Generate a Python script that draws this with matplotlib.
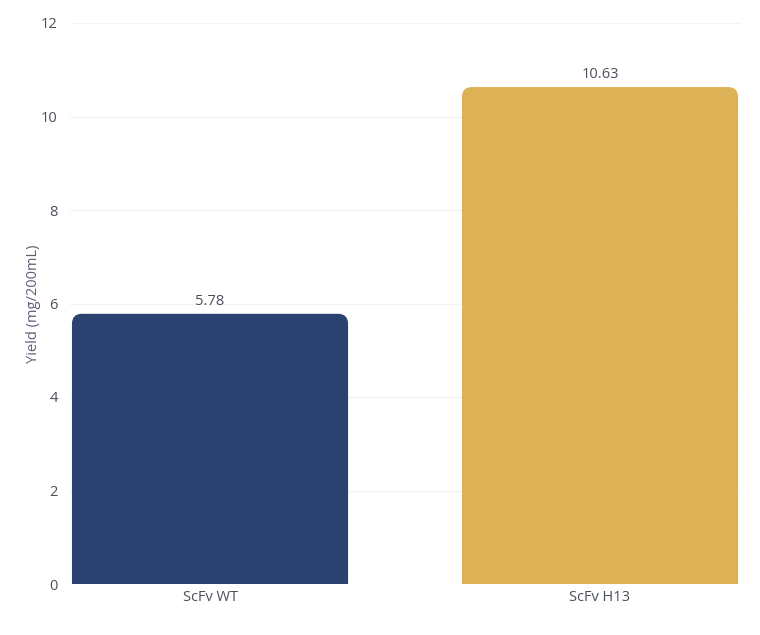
import matplotlib.pyplot as plt
from matplotlib.patches import FancyBboxPatch

plt.rcParams['font.family'] = ['Open Sans', 'DejaVu Sans']

categories = ['ScFv WT', 'ScFv H13']
yields = [5.78, 10.63]
colors = ['#2b4170', '#ddb257']
y_ticks = [0, 2, 4, 6, 8, 10, 12]

text_color = '#4a4f5c'
font_size = 10.5

fig = plt.figure(figsize=(7.6, 6.35), dpi=100)
ax = fig.add_axes([70 / 760, 51 / 635, 670 / 760, 561 / 635])

bar_width = 0.708
ax.set_xlim(-0.359, 1.359)
ax.set_ylim(0, 12)

# rounded top corners: draw a rounded box that goes below 0, the axes clip the bottom
radius = 0.0256
aspect = 8.36
for i, (val, col) in enumerate(zip(yields, colors)):
    box = FancyBboxPatch((i - bar_width / 2, -1), bar_width, val + 1,
                         boxstyle='round,pad=0,rounding_size=%f' % radius,
                         mutation_aspect=aspect, facecolor=col,
                         edgecolor='none', zorder=2)
    ax.add_patch(box)
    ax.text(i, val + 0.1, '%.2f' % val, ha='center', va='bottom',
            fontsize=font_size, color=text_color)

ax.set_xticks(range(len(categories)))
ax.set_xticklabels(categories, fontsize=font_size, color=text_color)
ax.set_yticks(y_ticks)
ax.set_yticklabels([str(t) for t in y_ticks], fontsize=font_size, color=text_color)
ax.tick_params(axis='both', length=0)
ax.tick_params(axis='y', pad=9)
ax.tick_params(axis='x', pad=4)

ax.grid(axis='y', color='#f3f3f3', linewidth=1, zorder=0)
ax.set_axisbelow(True)
for s in ax.spines.values():
    s.set_visible(False)

ax.set_ylabel('Yield (mg/200mL)', fontsize=font_size, color='#596175', labelpad=0)

fig.savefig('out.png', dpi=100, facecolor='white')
